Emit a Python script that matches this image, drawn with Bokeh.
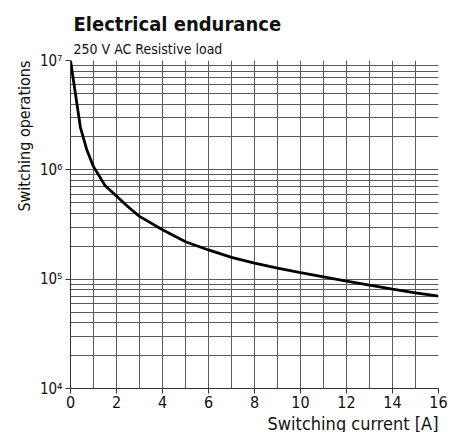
from bokeh.plotting import figure
from bokeh.models import FixedTicker, Title, Range1d
from bokeh.embed import file_html
from bokeh.resources import INLINE

# Data
current_a = [0, 0.2, 0.43, 0.72, 1.0, 1.5, 2.1, 2.5, 3.0, 4.0, 5.0, 6.0, 7.0, 8.0,
             9.0, 10.0, 11.0, 12.0, 13.0, 14.0, 15.0, 16.0]
operations = [1.0e7, 5.2e6, 2.45e6, 1.5e6, 1.07e6, 7.2e5, 5.5e5, 4.6e5, 3.75e5, 2.83e5,
              2.2e5, 1.85e5, 1.58e5, 1.4e5, 1.26e5, 1.15e5, 1.05e5, 9.6e4, 8.8e4,
              8.1e4, 7.5e4, 7.0e4]

x_major = [0, 2, 4, 6, 8, 10, 12, 14, 16]
x_minor = [1, 3, 5, 7, 9, 11, 13, 15]
y_major = [1e4, 1e5, 1e6, 1e7]
y_labels = {1e4: "10\u2074", 1e5: "10\u2075", 1e6: "10\u2076", 1e7: "10\u2077"}
y_minor = [m * d for d in (1e4, 1e5, 1e6) for m in range(2, 10)]

FONT = "DejaVu Sans Condensed"
GRID = "#5a5a5a"

p = figure(width=448, height=430, y_axis_type="log", output_backend="svg",
           toolbar_location=None, title=None,
           x_range=Range1d(0, 16), y_range=Range1d(1e4, 1e7),
           min_border_left=70, min_border_right=10, min_border_top=60, min_border_bottom=42)
p.frame_width = 368
p.frame_height = 328

sub = Title(text="250 V AC Resistive load", text_font=FONT, text_font_size="14px",
            text_font_style="normal", text_color="#111111", offset=3, standoff=7)
main = Title(text="Electrical endurance", text_font=FONT, text_font_size="20px",
             text_font_style="bold", text_color="#111111", offset=3, standoff=0)
p.add_layout(sub, "above")
p.add_layout(main, "above")

xlab = Title(text="Switching current [A]", text_font=FONT, text_font_size="18px",
             text_font_style="normal", text_color="#111111", align="right", offset=0, standoff=0)
ylab = Title(text="Switching operations", text_font=FONT, text_font_size="16px",
             text_font_style="normal", text_color="#111111", align="right", offset=0, standoff=5)
p.add_layout(xlab, "below")
p.add_layout(ylab, "left")

p.outline_line_color = None
p.background_fill_color = "white"

p.xaxis.ticker = FixedTicker(ticks=x_major, minor_ticks=x_minor)
p.xgrid.ticker = FixedTicker(ticks=x_major, minor_ticks=x_minor)
p.yaxis.ticker = FixedTicker(ticks=y_major, minor_ticks=y_minor)
p.ygrid.ticker = FixedTicker(ticks=y_major, minor_ticks=y_minor)
p.yaxis.major_label_overrides = y_labels

for g in (p.xgrid, p.ygrid):
    g.grid_line_color = GRID
    g.grid_line_width = 1
    g.minor_grid_line_color = GRID
    g.minor_grid_line_width = 1

for ax in (p.xaxis, p.yaxis):
    ax.axis_line_color = "#333333"
    ax.major_tick_line_color = "#333333"
    ax.major_tick_out = 5
    ax.major_tick_in = 0
    ax.minor_tick_out = 0
    ax.minor_tick_in = 0
    ax.major_label_text_font = FONT
    ax.major_label_text_color = "#111111"

p.xaxis.major_label_text_font_size = "16px"
p.yaxis.major_label_text_font_size = "15px"
p.xaxis.major_label_standoff = 2
p.yaxis.major_label_standoff = 3

p.line(current_a, operations, line_color="black", line_width=2.8)

open("out.html", "w").write(file_html(p, INLINE))
